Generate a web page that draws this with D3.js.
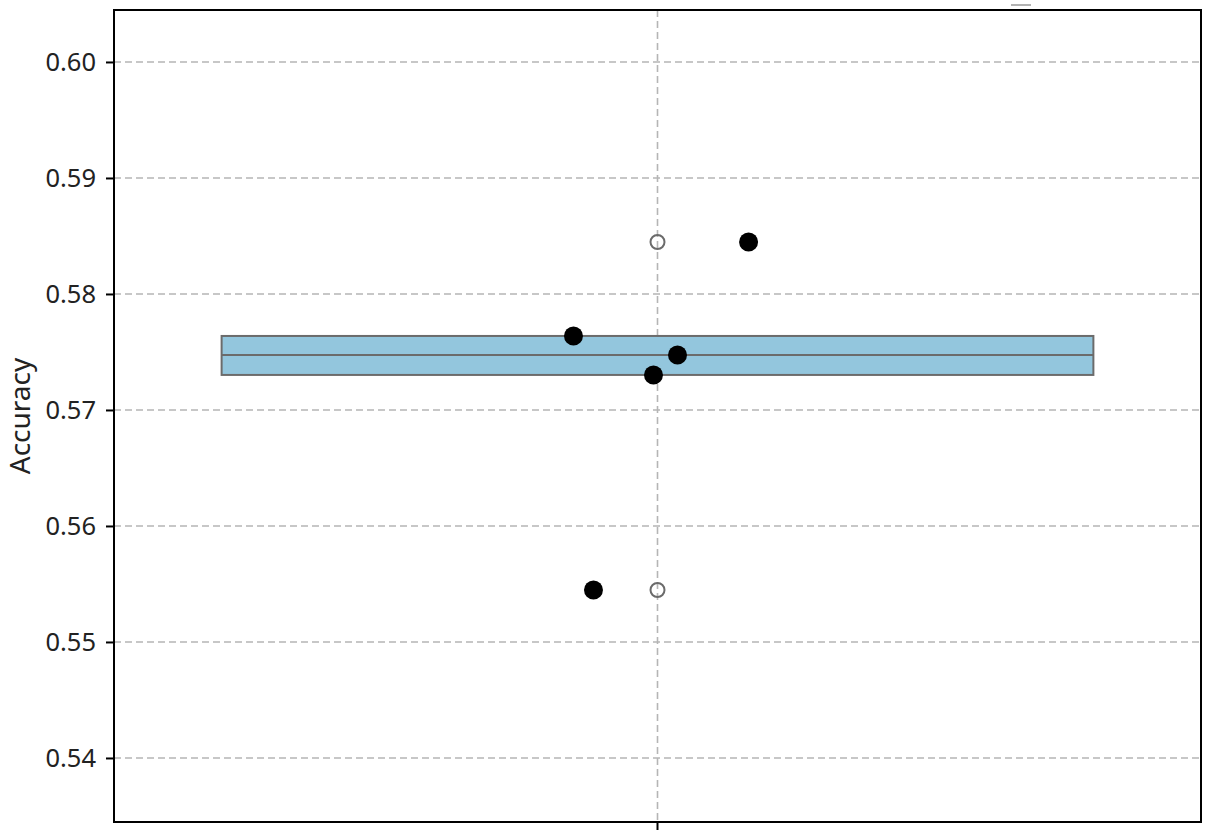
<!DOCTYPE html>
<html><head><meta charset="utf-8">
<script src="https://cdn.jsdelivr.net/npm/d3@7"></script>
<style>body{margin:0;background:#fff}svg{display:block}text{font-family:"Noto Sans",sans-serif;fill:#222}</style>
</head><body>
<svg id="c" width="1210" height="837"></svg>
<script>
const categories = ["Model"];
const values = [0.57638, 0.58448, 0.57474, 0.57302, 0.55448];
const jitter = [-0.0773, 0.0838, 0.0184, -0.0037, -0.0589];
const yTicks = [0.54, 0.55, 0.56, 0.57, 0.58, 0.59, 0.60];
const yDomain = [0.53448, 0.60448];

const svg = d3.select("#c");
const m = {l:114, r:9, t:10, b:15};
const W = 1210, H = 837;
const x = d3.scaleBand().domain(categories).range([m.l, W - m.r]).padding(0);
const y = d3.scaleLinear().domain(yDomain).range([H - m.b, m.t]);

// grid
svg.append("g").selectAll("line").data(yTicks).join("line")
  .attr("x1", m.l).attr("x2", W - m.r)
  .attr("y1", d => y(d)).attr("y2", d => y(d))
  .attr("stroke", "#b5b5b5").attr("stroke-width", 1.6).attr("stroke-dasharray", "7,4");
svg.append("g").selectAll("line").data(categories).join("line")
  .attr("x1", d => x(d) + x.bandwidth()/2).attr("x2", d => x(d) + x.bandwidth()/2)
  .attr("y1", m.t).attr("y2", H - m.b)
  .attr("stroke", "#b5b5b5").attr("stroke-width", 1.6).attr("stroke-dasharray", "7,4");

// boxplot stats
const sorted = values.slice().sort(d3.ascending);
const q1 = d3.quantile(sorted, 0.25), med = d3.quantile(sorted, 0.5), q3 = d3.quantile(sorted, 0.75);
const iqr = q3 - q1;
const lo = d3.min(sorted.filter(v => v >= q1 - 1.5*iqr));
const hi = d3.max(sorted.filter(v => v <= q3 + 1.5*iqr));
const outliers = sorted.filter(v => v < q1 - 1.5*iqr || v > q3 + 1.5*iqr);
const cx = x(categories[0]) + x.bandwidth()/2;
const bw = x.bandwidth()*0.802;
const lineCol = "#6b6b6b";

const g = svg.append("g");
g.append("line").attr("x1", cx).attr("x2", cx).attr("y1", y(q3)).attr("y2", y(hi)).attr("stroke", lineCol).attr("stroke-width", 2);
g.append("line").attr("x1", cx).attr("x2", cx).attr("y1", y(q1)).attr("y2", y(lo)).attr("stroke", lineCol).attr("stroke-width", 2);
g.append("rect").attr("x", cx - bw/2).attr("width", bw).attr("y", y(q3)).attr("height", y(q1) - y(q3))
  .attr("fill", "#93c6dd").attr("stroke", lineCol).attr("stroke-width", 2);
g.append("line").attr("x1", cx - bw/2).attr("x2", cx + bw/2).attr("y1", y(med)).attr("y2", y(med)).attr("stroke", lineCol).attr("stroke-width", 2);
g.selectAll("circle.out").data(outliers).join("circle").attr("class", "out")
  .attr("cx", cx).attr("cy", d => y(d)).attr("r", 7)
  .attr("fill", "none").attr("stroke", lineCol).attr("stroke-width", 2);

// strip points
svg.append("g").selectAll("circle").data(values).join("circle")
  .attr("cx", (d, i) => cx + jitter[i]*x.bandwidth()).attr("cy", d => y(d)).attr("r", 9.5).attr("fill", "#000");

// axes
const ya = svg.append("g").attr("transform", `translate(${m.l},0)`)
  .call(d3.axisLeft(y).tickValues(yTicks).tickFormat(d3.format(".2f")).tickSize(8).tickPadding(10));
ya.select(".domain").remove();
ya.selectAll(".tick line").attr("stroke", "#000").attr("stroke-width", 2);
ya.selectAll(".tick text").attr("font-size", 25.5).attr("fill", "#222").style("font-family", "Noto Sans");
const xa = svg.append("g").attr("transform", `translate(0,${H - m.b})`)
  .call(d3.axisBottom(x).tickSize(8).tickFormat(""));
xa.select(".domain").remove();
xa.selectAll(".tick line").attr("stroke", "#000").attr("stroke-width", 2);

// frame
svg.append("rect").attr("x", m.l).attr("y", m.t).attr("width", W - m.l - m.r).attr("height", H - m.t - m.b)
  .attr("fill", "none").attr("stroke", "#000").attr("stroke-width", 2);

// y label
svg.append("text").attr("transform", `translate(30,${(m.t + H - m.b)/2}) rotate(-90)`)
  .attr("text-anchor", "middle").attr("font-size", 28).text("Accuracy");

// small clipped legend mark at top
svg.append("line").attr("x1", 1011).attr("x2", 1031).attr("y1", 5).attr("y2", 5).attr("stroke", "#999").attr("stroke-width", 1.5);
</script>
</body></html>
